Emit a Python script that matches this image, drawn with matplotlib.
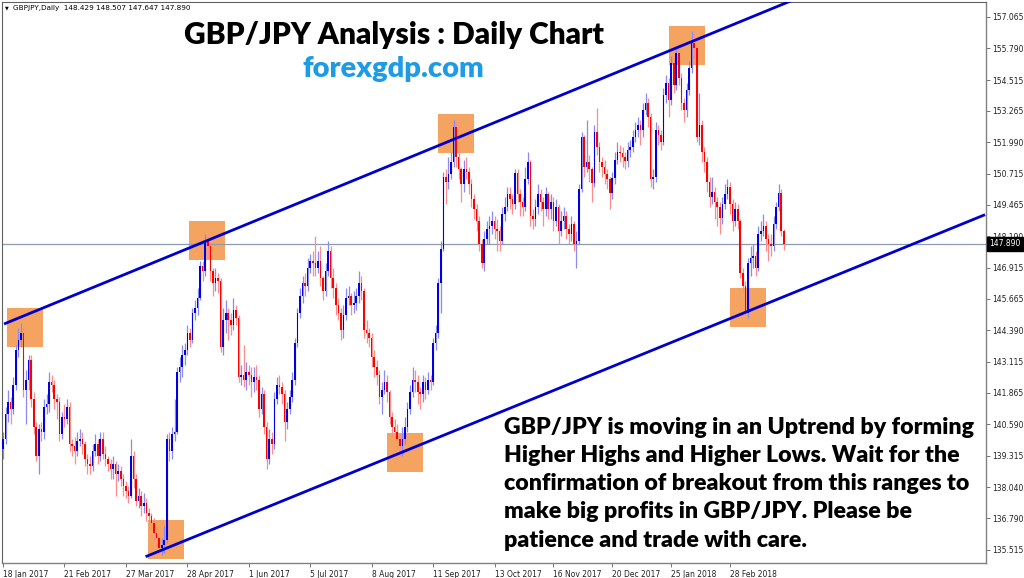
import numpy as np
import matplotlib
matplotlib.use("Agg")
import matplotlib.pyplot as plt
from matplotlib.patches import Rectangle

# ---------------- data ----------------
first_open = 139.6
closes = [
    140.0, 141.0, 141.5, 141.2, 142.2, 143.6, 144.0, 144.3, 142.0, 142.4,
    143.2, 141.6, 140.5, 139.3, 140.4, 140.3, 141.3, 141.4, 142.3, 142.2,
    141.6, 141.5, 140.2, 140.9, 140.8, 141.3, 139.8, 139.7, 139.5, 139.9,
    140.0, 139.8, 139.2, 139.0, 138.9, 139.5, 139.8, 139.3, 140.0, 139.4,
    139.2, 139.0, 138.8, 139.0, 138.6, 138.7, 138.4, 138.1, 137.9, 137.7,
    139.3, 138.4, 137.5, 137.7, 137.3, 137.4, 137.0, 136.9, 136.6, 136.2,
    136.0, 135.6, 135.7, 135.9, 140.0, 139.5, 140.2, 140.3, 142.7, 142.9,
    143.4, 143.6, 144.3, 144.0, 145.1, 145.3, 145.7, 147.0, 146.8, 148.0,
    147.8, 146.8, 146.3, 146.5, 146.4, 143.7, 144.8, 145.1, 144.8, 144.6,
    145.2, 144.9, 142.5, 142.6, 142.4, 142.7, 142.6, 142.3, 142.5, 142.4,
    141.2, 141.8, 140.5, 139.2, 140.0, 139.8, 141.6, 142.2, 142.1, 141.8,
    140.7, 141.2, 141.7, 142.4, 143.9, 145.1, 145.8, 146.3, 146.2, 146.9,
    147.2, 147.1, 146.9, 147.2, 146.5, 146.0, 146.8, 147.6, 146.5, 146.1,
    145.4, 145.1, 144.4, 145.0, 145.7, 145.8, 145.4, 145.5, 145.8, 146.3,
    146.0, 144.4, 144.3, 144.1, 143.3, 142.9, 142.6, 141.7, 142.0, 142.3,
    141.9, 140.9, 140.5, 140.3, 140.0, 139.7, 140.0, 140.5, 141.2, 141.9,
    142.4, 142.3, 141.9, 141.8, 142.3, 142.0, 142.4, 142.3, 143.9, 144.3,
    146.3, 147.7, 150.6, 150.4, 150.7, 151.2, 152.6, 151.4, 150.9, 150.3,
    150.9, 150.8, 150.3, 149.7, 149.3, 148.8, 147.9, 147.1, 148.1, 148.5,
    148.6, 148.8, 148.5, 148.4, 148.0, 149.1, 149.4, 149.9, 149.7, 149.5,
    150.75, 149.9, 149.6, 149.4, 150.5, 151.2, 149.0, 148.9, 149.4, 149.9,
    149.6, 149.3, 149.9, 149.3, 149.6, 148.8, 149.4, 148.4, 148.8, 149.0,
    148.5, 148.3, 148.7, 147.9, 148.0, 150.1, 152.2, 151.0, 151.2, 150.9,
    150.35, 152.4, 151.8, 151.2, 151.0, 150.7, 150.5, 149.95, 150.55, 151.3,
    151.6, 151.55, 151.4, 151.25, 151.7, 151.8, 152.2, 152.5, 152.7, 152.5,
    153.3, 153.6, 153.0, 150.5, 150.6, 152.5, 152.3, 152.0, 153.9, 154.4,
    153.7, 155.2, 154.3, 155.6, 154.6, 153.6, 153.3, 154.1, 155.0, 156.0,
    155.8, 152.2, 152.7, 151.6, 151.2, 150.4, 149.8, 150.0, 149.6, 149.4,
    148.95, 149.5, 149.9, 150.2, 149.5, 148.8, 149.3, 148.8, 146.7, 146.2,
    145.1, 147.1, 147.3, 147.4, 146.9, 148.3, 148.4, 148.6, 148.1, 147.9,
    147.8, 148.7, 149.4, 149.95, 148.429, 147.890,
]
highs = [
    140.3, 141.3, 142.0, 141.7, 142.5, 143.8, 144.5, 144.7, 144.5, 142.8,
    143.4, 143.4, 141.9, 140.7, 140.6, 140.7, 141.6, 141.8, 142.7, 142.6,
    142.4, 141.8, 141.7, 141.1, 141.4, 141.6, 141.5, 140.0, 140.1, 140.3,
    140.4, 140.3, 139.9, 139.4, 139.3, 139.8, 140.2, 140.0, 140.3, 140.3,
    139.7, 139.3, 139.2, 139.3, 139.1, 139.0, 138.9, 138.6, 138.3, 138.1,
    140.0, 139.5, 138.6, 138.0, 137.9, 137.8, 137.6, 137.2, 137.0, 136.8,
    136.4, 136.1, 136.0, 136.5, 140.2, 140.3, 140.5, 141.6, 142.9, 143.3,
    143.8, 143.9, 144.6, 144.5, 145.3, 145.6, 146.1, 147.2, 147.2, 148.3,
    148.2, 147.9, 146.9, 146.9, 146.7, 146.5, 145.3, 145.6, 145.3, 145.1,
    145.7, 145.4, 145.0, 143.0, 143.8, 143.1, 143.0, 142.9, 142.9, 143.0,
    142.6, 142.1, 142.0, 140.7, 140.4, 140.3, 141.9, 142.5, 142.6, 142.3,
    142.0, 141.5, 142.0, 142.7, 144.1, 145.3, 146.1, 146.6, 146.7, 147.3,
    147.5, 147.6, 148.2, 147.6, 147.8, 146.6, 147.1, 148.0, 147.8, 146.9,
    146.3, 145.7, 145.3, 145.4, 146.1, 146.2, 145.9, 146.0, 146.1, 146.8,
    146.6, 146.1, 144.8, 144.5, 144.3, 143.6, 143.2, 142.8, 142.3, 142.8,
    142.6, 142.0, 141.1, 140.8, 140.6, 140.2, 140.5, 140.9, 141.5, 142.2,
    142.9, 142.8, 142.6, 142.1, 142.6, 142.5, 142.7, 142.6, 144.1, 144.6,
    146.5, 148.0, 150.8, 150.9, 151.4, 151.6, 152.9, 152.8, 151.8, 151.0,
    151.3, 151.4, 151.0, 150.5, 149.9, 149.5, 149.0, 148.1, 148.4, 148.8,
    149.0, 149.2, 149.0, 148.9, 148.6, 149.4, 149.8, 150.2, 150.2, 149.9,
    150.9, 150.9, 150.1, 149.8, 151.0, 151.6, 151.3, 149.3, 149.7, 150.3,
    150.1, 149.8, 150.2, 150.0, 149.9, 149.8, 149.7, 149.5, 149.2, 149.4,
    149.2, 148.7, 149.0, 148.8, 148.4, 150.3, 152.4, 152.3, 152.9, 151.5,
    151.0, 152.7, 153.4, 152.0, 151.4, 151.3, 150.9, 150.6, 150.8, 151.6,
    152.0, 151.9, 151.8, 151.6, 152.0, 152.1, 152.5, 152.8, 153.0, 152.9,
    153.6, 154.0, 153.8, 153.2, 150.9, 152.8, 152.7, 152.5, 154.2, 154.7,
    154.6, 155.5, 155.4, 155.9, 155.8, 154.8, 153.8, 154.4, 155.3, 156.5,
    156.4, 156.0, 154.0, 152.9, 151.8, 151.4, 150.6, 150.6, 150.2, 149.8,
    149.6, 149.8, 150.3, 150.5, 150.4, 149.7, 149.6, 149.5, 148.9, 146.9,
    146.4, 147.3, 147.8, 147.9, 147.6, 148.6, 148.8, 149.1, 148.8, 148.3,
    148.3, 149.0, 149.6, 150.3, 150.1, 148.507,
]
lows = [
    139.2, 139.8, 140.7, 140.6, 141.0, 142.0, 143.3, 143.7, 141.7, 140.6,
    142.0, 141.3, 140.2, 139.1, 138.6, 139.9, 140.0, 141.0, 141.1, 141.9,
    141.2, 140.8, 139.9, 140.0, 140.5, 140.6, 139.5, 139.3, 139.0, 139.3,
    139.7, 139.4, 138.9, 138.6, 138.6, 138.7, 139.3, 139.0, 139.1, 139.2,
    138.9, 138.7, 138.4, 138.4, 137.7, 138.3, 138.1, 137.7, 137.6, 137.4,
    137.6, 138.0, 137.3, 137.2, 136.9, 137.0, 136.7, 136.4, 136.3, 135.9,
    135.6, 135.3, 135.3, 135.4, 135.8, 139.1, 139.2, 139.9, 140.2, 142.3,
    142.5, 143.0, 143.4, 143.7, 143.9, 144.8, 145.0, 145.6, 146.4, 146.6,
    147.3, 146.4, 145.8, 146.0, 145.9, 143.5, 143.4, 144.3, 144.0, 144.2,
    144.4, 144.6, 142.3, 142.2, 142.1, 142.0, 142.2, 141.7, 141.9, 142.0,
    140.9, 141.0, 140.2, 138.8, 139.0, 139.4, 139.6, 141.4, 141.8, 141.4,
    139.9, 140.4, 141.0, 141.5, 142.2, 143.7, 144.9, 145.5, 145.8, 146.0,
    146.7, 146.6, 146.6, 146.7, 146.2, 145.6, 145.8, 146.6, 146.1, 145.7,
    145.0, 144.8, 144.0, 144.1, 144.8, 145.4, 145.0, 145.1, 145.2, 145.5,
    145.6, 144.1, 143.9, 143.7, 142.9, 142.5, 142.2, 141.4, 141.0, 141.8,
    141.5, 140.6, 140.1, 139.9, 139.6, 139.3, 139.3, 139.8, 140.3, 141.0,
    141.7, 141.9, 141.4, 141.2, 141.5, 141.6, 141.8, 142.0, 142.2, 143.6,
    144.1, 145.1, 147.6, 149.5, 150.1, 150.5, 151.0, 151.0, 150.5, 149.6,
    150.0, 150.5, 149.9, 149.4, 148.9, 148.4, 147.6, 146.9, 146.8, 147.9,
    147.9, 148.3, 148.1, 147.6, 147.6, 147.9, 148.8, 149.2, 149.3, 149.1,
    149.3, 149.6, 149.0, 149.0, 149.2, 150.3, 148.6, 148.5, 148.6, 149.1,
    149.2, 148.6, 149.0, 148.9, 148.9, 148.4, 148.6, 147.9, 148.2, 148.5,
    148.1, 147.9, 148.0, 147.6, 146.9, 147.9, 150.0, 150.6, 150.8, 150.4,
    149.6, 150.2, 151.5, 150.8, 150.6, 150.3, 150.1, 149.3, 149.7, 150.3,
    151.1, 151.2, 151.0, 150.9, 151.0, 151.4, 151.6, 152.0, 152.2, 151.9,
    152.2, 153.1, 152.6, 150.2, 150.1, 150.4, 151.9, 151.7, 151.9, 153.6,
    153.0, 153.5, 154.0, 154.1, 154.3, 153.3, 152.8, 153.0, 153.9, 154.8,
    155.4, 152.0, 151.9, 151.2, 150.8, 150.0, 149.4, 149.5, 148.9, 148.6,
    148.3, 148.7, 149.3, 149.7, 149.1, 148.4, 148.6, 148.5, 146.5, 145.9,
    145.0, 144.9, 146.6, 146.9, 146.6, 146.8, 148.0, 148.2, 147.6, 147.2,
    147.4, 147.6, 148.5, 149.2, 148.2, 147.647,
]
last_open = 148.429
last_high = 148.507
last_low = 147.647
last_close = 147.890

price_ticks = [157.065, 155.790, 154.515, 153.265, 151.990, 150.715, 149.465,
               148.190, 146.915, 145.665, 144.390, 143.115, 141.865, 140.590,
               139.315, 138.040, 136.790, 135.515]
date_labels = ["18 Jan 2017", "21 Feb 2017", "27 Mar 2017", "28 Apr 2017",
               "1 Jun 2017", "5 Jul 2017", "8 Aug 2017", "11 Sep 2017",
               "13 Oct 2017", "16 Nov 2017", "20 Dec 2017", "25 Jan 2018",
               "28 Feb 2018"]
date_label_bars = [0, 24, 48, 72, 96, 120, 144, 168, 192, 215, 238, 261, 284]

# trend lines: anchor points (bar index, price)
upper_line_bars = [0.4, 310.0]
upper_line_prices = [144.65, 157.81]
lower_line_bars = [55.7, 383.6]
lower_line_prices = [135.24, 149.07]

# highlighted swing points (bar index, price)
box_bars = [8.6, 79.7, 63.7, 157.0, 177.0, 267.2, 291.0]
box_prices = [144.49, 148.03, 135.92, 139.45, 152.35, 155.93, 145.32]

title = "GBP/JPY Analysis : Daily Chart"
site = "forexgdp.com"
note_lines = ["GBP/JPY is moving in an Uptrend by forming",
              "Higher Highs and Higher Lows. Wait for the",
              "confirmation of breakout from this ranges to",
              "make big profits in GBP/JPY. Please be",
              "patience and trade with care."]

# ---------------- drawing ----------------
W, H = 1024, 578
fig = plt.figure(figsize=(W / 100, H / 100), dpi=100)
fig.patch.set_facecolor("white")
ax_l, ax_r, ax_t, ax_b = 2, 985.5, 2, 563
ax = fig.add_axes([ax_l / W, (H - ax_b) / H, (ax_r - ax_l) / W, (ax_b - ax_t) / H])
ax.set_facecolor("white")

c = np.array(closes, dtype=float)
hi = np.array(highs, dtype=float)
lo = np.array(lows, dtype=float)
o = np.concatenate([[first_open], c[:-1]])
o[-1] = last_open
hi = np.maximum(hi, np.maximum(o, c))
lo = np.minimum(lo, np.minimum(o, c))
x = np.arange(len(c))
up = c >= o

px_per_bar = 2.56
x_left = (ax_l - 3) / px_per_bar
x_right = x_left + (ax_r - ax_l) / px_per_bar
ax.set_xlim(x_left, x_right)
ax.set_ylim(134.985, 157.67)

# boxes
box_w = 36 / px_per_bar
box_h = 39 / 24.73
for bx, by in zip(box_bars, box_prices):
    ax.add_patch(Rectangle((bx - box_w / 2, by - box_h / 2), box_w, box_h,
                           facecolor="#f4a460", edgecolor="none", zorder=1))

# current price line
ax.axhline(last_close, color="#8c9bb0", lw=0.9, zorder=1.5)

# wicks
wick_col = np.where(up, "#8a8af0", "#ff8c8c")
ax.vlines(x, lo, hi, colors=list(wick_col), lw=0.9, zorder=2)
# bodies
body_col = np.where(up, "#0000e6", "#ff0000")
height = np.maximum(np.abs(c - o), 0.04)
ax.bar(x, height, bottom=np.minimum(o, c), width=0.62, color=list(body_col),
       linewidth=0, zorder=3)

# trend lines
ax.plot(upper_line_bars, upper_line_prices, color="#0000cc", lw=2.0, zorder=4,
        solid_capstyle="butt")
ax.plot(lower_line_bars, lower_line_prices, color="#0000cc", lw=2.0, zorder=4,
        solid_capstyle="butt")

# axes styling
for s in ["left", "top"]:
    ax.spines[s].set_color("#606060")
    ax.spines[s].set_linewidth(0.8)
for s in ["right", "bottom"]:
    ax.spines[s].set_color("#808080")
    ax.spines[s].set_linewidth(1.0)

tick_font = dict(family="DejaVu Sans", size=5.5)
ax.yaxis.tick_right()
ax.set_yticks(price_ticks)
ax.set_yticklabels([f"{p:.3f}" for p in price_ticks], **tick_font, color="#202020")
ax.tick_params(axis="y", direction="out", length=3, width=0.6, color="#606060", pad=2)
ax.set_xticks(date_label_bars)
ax.set_xticklabels(date_labels, **tick_font, color="#202020", ha="left")
ax.tick_params(axis="x", direction="out", length=3, width=0.6, color="#606060", pad=2)

# current price tag
ax.annotate(f"{last_close:.3f}", xy=(1.0, last_close), xycoords=("axes fraction", "data"),
            xytext=(2.5, 0), textcoords="offset points", va="center", ha="left",
            fontsize=5.5, family="DejaVu Sans", color="white",
            bbox=dict(boxstyle="square,pad=0.3", fc="black", ec="black"), zorder=10,
            annotation_clip=False)

# header
fig.text(5 / W, 1 - 8 / H, "\u25BC", fontsize=3.5, color="black", va="center", ha="left",
         family="DejaVu Sans")
fig.text(13 / W, 1 - 8 / H,
         f"GBPJPY,Daily  {last_open:.3f} {last_high:.3f} {last_low:.3f} {last_close:.3f}",
         fontsize=5.2, family="DejaVu Sans", color="black", va="center", ha="left")

# title and site
fig.text(394 / W, 1 - 35 / H, title, fontsize=21.5, fontweight="heavy",
         family="Lato", color="black", ha="center", va="center")
fig.text(393 / W, 1 - 69 / H, site, fontsize=21, fontweight="heavy",
         family="Lato", color="#1e9be6", ha="center", va="center")

# note
for i, line in enumerate(note_lines):
    fig.text(504 / W, 1 - (427 + 28.3 * i) / H, line, fontsize=16.7,
             fontweight="heavy", family="Lato", color="black",
             ha="left", va="center")

fig.savefig("out.png", dpi=100, facecolor="white")
